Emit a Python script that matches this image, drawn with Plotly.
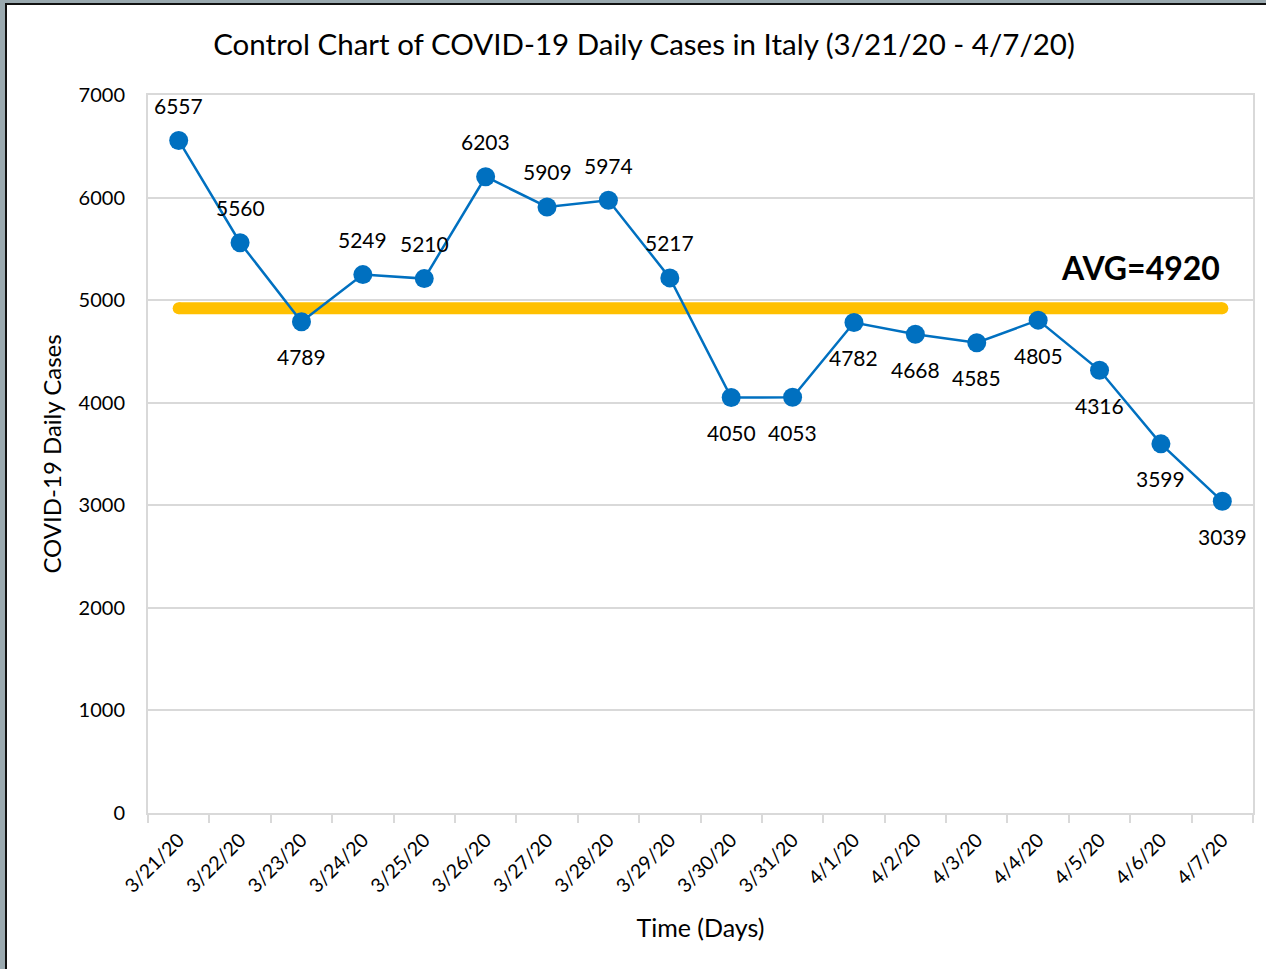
import plotly.graph_objects as go

# Daily new COVID-19 cases in Italy
dates = ["3/21/20", "3/22/20", "3/23/20", "3/24/20", "3/25/20", "3/26/20",
         "3/27/20", "3/28/20", "3/29/20", "3/30/20", "3/31/20", "4/1/20",
         "4/2/20", "4/3/20", "4/4/20", "4/5/20", "4/6/20", "4/7/20"]
cases = [6557, 5560, 4789, 5249, 5210, 6203, 5909, 5974, 5217, 4050,
         4053, 4782, 4668, 4585, 4805, 4316, 3599, 3039]
# which data labels sit above (+1) or below (-1) their marker
label_side = [1, 1, -1, 1, 1, 1, 1, 1, 1, -1, -1, -1, -1, -1, -1, -1, -1, -1]
y_ticks = [0, 1000, 2000, 3000, 4000, 5000, 6000, 7000]

avg = round(sum(cases) / len(cases))

FONT = "Lato, 'Open Sans', sans-serif"
BLUE = "#0070C0"
GOLD = "#FFC000"
GRID = "#D9D9D9"

W, H = 1266, 969
ML, MR, MT, MB = 148, 13, 95, 156
PW, PH = W - ML - MR, H - MT - MB


def px_x(p):
    return (p - ML) / PW


def px_y(p):
    return (H - MB - p) / PH


fig = go.Figure()

# average (centre) line with rounded ends
fig.add_trace(go.Scatter(
    x=[dates[0], dates[-1]], y=[avg, avg], mode="lines+markers",
    line=dict(color=GOLD, width=12),
    marker=dict(color=GOLD, size=12),
    hoverinfo="skip", showlegend=False,
))

# daily cases
fig.add_trace(go.Scatter(
    x=dates, y=cases, mode="lines+markers",
    line=dict(color=BLUE, width=2.5),
    marker=dict(color=BLUE, size=19),
    showlegend=False,
))

for d, v, s in zip(dates, cases, label_side):
    fig.add_annotation(
        x=d, y=v, text=str(v), showarrow=False,
        yshift=35 * s, font=dict(family=FONT, size=21, color="black"),
    )

fig.add_annotation(
    x=dates[-1], y=avg, text=f"<b>AVG={avg}</b>", showarrow=False,
    xanchor="right", yanchor="middle", yshift=41,
    font=dict(family=FONT, size=32, color="black"),
)

# outer frame: grey surround with a dark inner edge
fig.add_shape(type="rect", xref="paper", yref="paper", layer="below",
              x0=px_x(5), x1=px_x(W + 10), y0=px_y(3), y1=px_y(H + 10),
              fillcolor="#111111", line_width=0)
fig.add_shape(type="rect", xref="paper", yref="paper", layer="below",
              x0=px_x(7), x1=px_x(W + 10), y0=px_y(5), y1=px_y(H + 10),
              fillcolor="white", line_width=0)

fig.update_layout(
    width=W, height=H,
    margin=dict(l=ML, r=MR, t=MT, b=MB),
    paper_bgcolor="#9AA9AF",
    plot_bgcolor="white",
    font=dict(family=FONT, color="black"),
    title=dict(
        text="Control Chart of COVID-19 Daily Cases in Italy (3/21/20 - 4/7/20)",
        x=644 / W, xref="container", xanchor="center",
        y=1 - 45 / H, yref="container", yanchor="middle",
        font=dict(family=FONT, size=29.5, color="black"),
    ),
    xaxis=dict(
        type="category", categoryorder="array", categoryarray=dates,
        range=[-0.5, len(dates) - 0.5],
        tickson="boundaries", ticks="outside", ticklen=8, tickcolor=GRID,
        tickwidth=2, ticklabelstandoff=6,
        tickangle=-45, tickfont=dict(family=FONT, size=19.5),
        showline=True, linecolor=GRID, linewidth=2, mirror=True,
        showgrid=False, zeroline=False,
        title=dict(text="Time (Days)", font=dict(family=FONT, size=25),
                   standoff=24),
    ),
    yaxis=dict(
        range=[0, 7000], tickvals=y_ticks,
        tickfont=dict(family=FONT, size=20),
        ticklabelstandoff=17,
        showline=True, linecolor=GRID, linewidth=2, mirror=True,
        showgrid=True, gridcolor=GRID, gridwidth=1.5, zeroline=False,
        title=dict(text="COVID-19 Daily Cases", font=dict(family=FONT, size=24),
                   standoff=10),
    ),
)

fig.write_html("out.html")
